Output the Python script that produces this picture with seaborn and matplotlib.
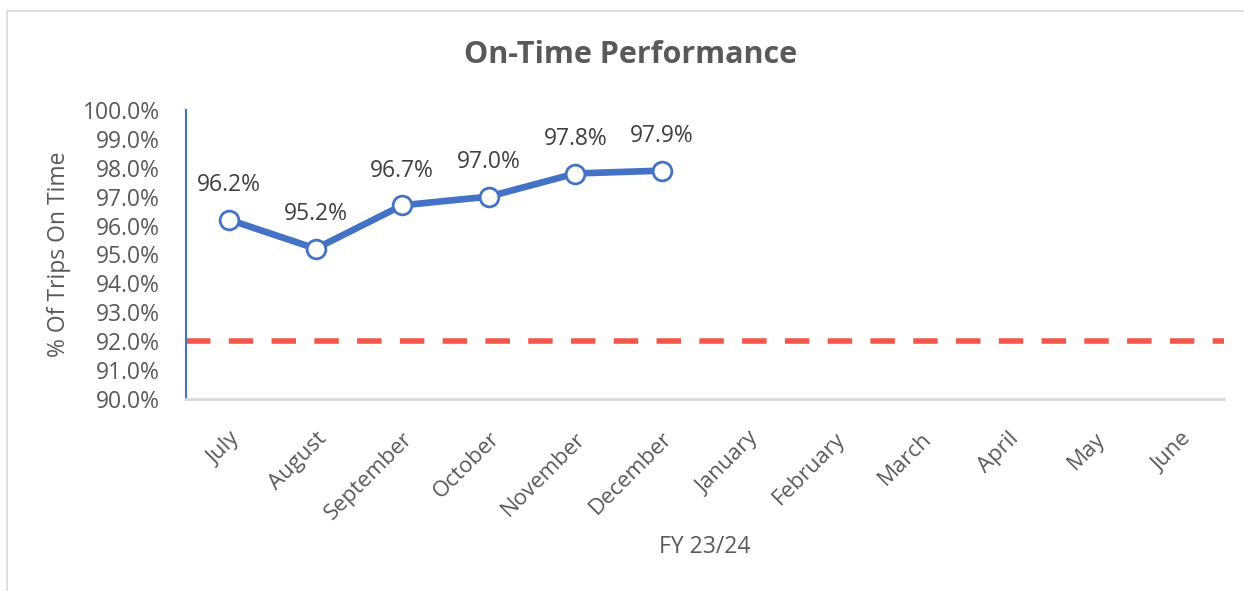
import matplotlib
matplotlib.use("Agg")
import matplotlib.pyplot as plt
import seaborn as sns
import pandas as pd
from matplotlib.patches import Rectangle

months = ["July", "August", "September", "October", "November", "December",
          "January", "February", "March", "April", "May", "June"]
on_time = [96.2, 95.2, 96.7, 97.0, 97.8, 97.9]
target = 92.0
y_ticks = [90, 91, 92, 93, 94, 95, 96, 97, 98, 99, 100]

sns.set_theme(style="white")
plt.rcParams['font.family'] = ['Open Sans', 'DejaVu Sans']

df = pd.DataFrame({"month": months[:len(on_time)], "pct": on_time})

fig = plt.figure(figsize=(12.44, 5.91), dpi=100)
ax = fig.add_axes([0.1495, 0.325, 0.8345, 0.489])

# target line
ax.axhline(target, color="#F4574A", lw=4, ls=(0, (4.4, 3.3)), zorder=1)

ax.set_xticks(range(len(months)))
sns.lineplot(data=df, x=range(len(on_time)), y="pct", ax=ax, color="#4472C4",
             lw=4.8, marker="o", markersize=13.5, markerfacecolor="white",
             markeredgecolor="#4472C4", markeredgewidth=2, zorder=3)

for i, v in enumerate(on_time):
    ax.annotate(f"{v:.1f}%", (i, v), xytext=(0, 25), textcoords="offset points",
                ha="center", va="center", fontsize=16.5, color="#404040")

ax.set_xlim(-0.5, len(months) - 0.5)
ax.set_ylim(90, 100)
ax.set_yticks(y_ticks)
ax.set_yticklabels([f"{t:.1f}%" for t in y_ticks], fontsize=16.5, color="#595959")
ax.set_xticklabels(months, rotation=45, ha="right", rotation_mode="anchor",
                   fontsize=16, color="#595959")
ax.tick_params(axis="x", pad=21, length=0)
ax.tick_params(axis="y", pad=19, length=0)

fig.text(0.507, 0.907, "On-Time Performance", fontsize=22, fontweight="bold",
         color="#595959", ha="center", va="center")
ax.set_xlabel("FY 23/24", fontsize=16.5, color="#595959", labelpad=8)
ax.set_ylabel("% Of Trips On Time", fontsize=16.5, color="#595959", labelpad=8)

for s in ["top", "right"]:
    ax.spines[s].set_visible(False)
ax.spines["left"].set_color("#4472C4")
ax.spines["left"].set_linewidth(1.5)
ax.spines["bottom"].set_color("#D9D9D9")
ax.spines["bottom"].set_linewidth(2)

fig.patches.append(Rectangle((0.0056, -0.01), 1.0, 0.992, transform=fig.transFigure,
                             fill=False, edgecolor="#D9D9D9", lw=1.2))

fig.savefig("out.png", dpi=100)
